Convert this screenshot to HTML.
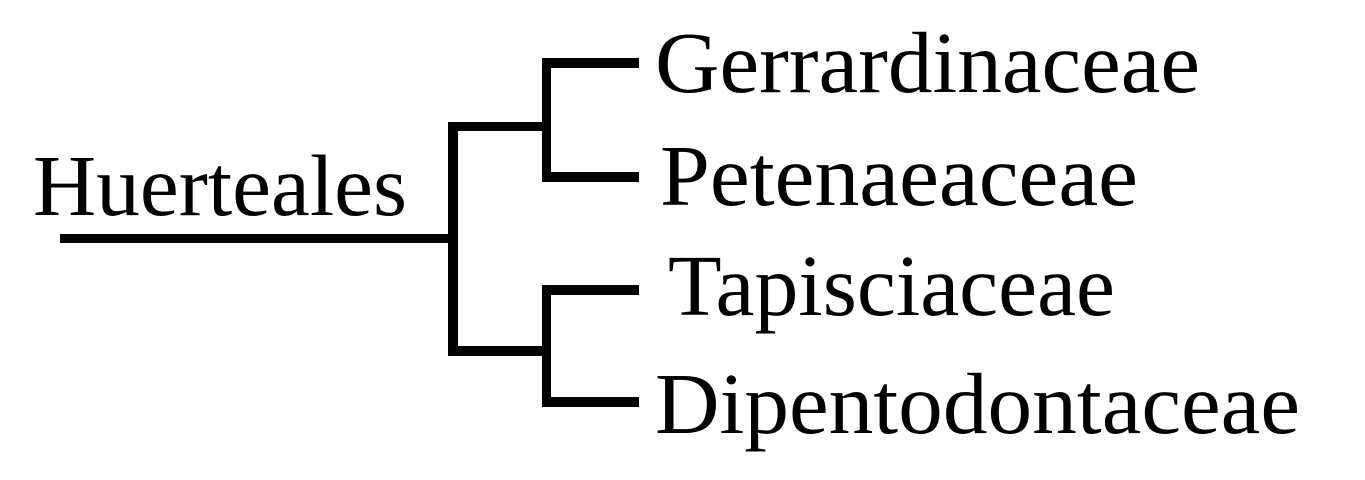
<!DOCTYPE html>
<html><head><style>
html,body{margin:0;padding:0;background:#fff;}
body{width:1365px;height:480px;position:relative;overflow:hidden;}
svg{position:absolute;left:0;top:0;}
text{font-family:"Liberation Serif",serif;font-size:87px;fill:#000;}
</style></head><body>
<svg width="1365" height="480" viewBox="0 0 1365 480">
<g fill="#000">
<rect x="60" y="234" width="398" height="9"/>
<rect x="448" y="122" width="10" height="234"/>
<rect x="448" y="122" width="102" height="9"/>
<rect x="448" y="346" width="102" height="10"/>
<rect x="542" y="58" width="9" height="124"/>
<rect x="542" y="58" width="97" height="10"/>
<rect x="542" y="172" width="97" height="10"/>
<rect x="542" y="285" width="9" height="122"/>
<rect x="542" y="285" width="97" height="10"/>
<rect x="542" y="397" width="97" height="10"/>
</g>
<text x="33" y="215" textLength="374" lengthAdjust="spacingAndGlyphs">Huerteales</text>
<text x="655" y="92" textLength="545" lengthAdjust="spacingAndGlyphs">Gerrardinaceae</text>
<text x="660" y="205" textLength="478" lengthAdjust="spacingAndGlyphs">Petenaeaceae</text>
<text x="668" y="315" textLength="447" lengthAdjust="spacingAndGlyphs">Tapisciaceae</text>
<text x="655" y="433" textLength="645" lengthAdjust="spacingAndGlyphs">Dipentodontaceae</text>
</svg>
</body></html>
